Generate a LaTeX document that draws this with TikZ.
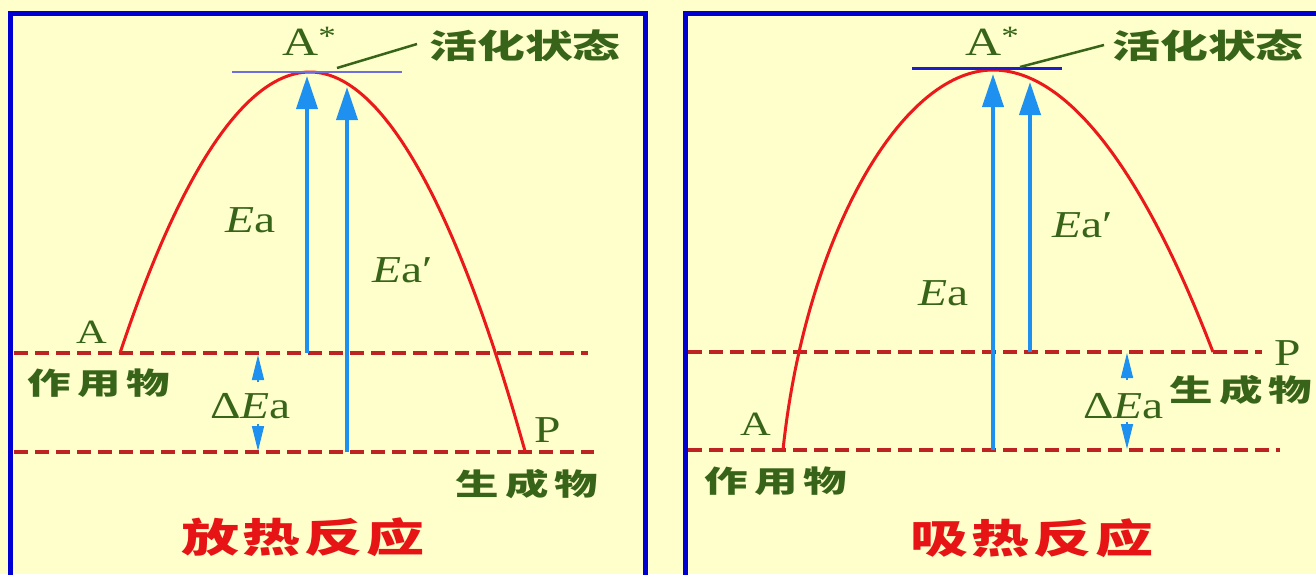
\documentclass[tikz,border=0pt]{standalone}
\usepackage{fontspec}
\setmainfont{Liberation Serif}[FakeStretch=1.25]
\newfontfamily\cjkfont{Noto Sans CJK SC}[FakeStretch=1.45]
\usetikzlibrary{arrows.meta,calc}
\definecolor{bgcream}{RGB}{255,255,204}
\definecolor{frameblue}{RGB}{0,0,210}
\definecolor{curvered}{RGB}{235,25,25}
\definecolor{titlered}{RGB}{230,20,20}
\definecolor{dashred}{RGB}{190,35,35}
\definecolor{arrowblue}{RGB}{30,144,240}
\definecolor{txtgreen}{RGB}{55,100,25}
\definecolor{toplineL}{RGB}{110,110,225}
\definecolor{toplineR}{RGB}{30,30,200}
\begin{document}
\begin{tikzpicture}[x=1pt,y=-1pt,
  lbl/.style={inner sep=0pt, text=txtgreen, font=\fontsize{38}{44}\selectfont, anchor=base west},
  cnlbl/.style={inner sep=0pt, text=txtgreen, font=\cjkfont\bfseries\fontsize{30}{34}\selectfont},
  statelbl/.style={inner sep=0pt, text=txtgreen, font=\cjkfont\bfseries\fontsize{33}{38}\selectfont},
  titlelbl/.style={inner sep=0pt, text=titlered, font=\cjkfont\bfseries\fontsize{40}{46}\selectfont},
  enline/.style={draw=dashred, line width=3.2pt, dash pattern=on 14pt off 7pt},
  barrier/.style={draw=curvered, line width=3pt},
  energy/.style={draw=arrowblue, line width=4pt, -{Triangle[length=33pt,width=21pt]}},
  darrow/.style={draw=arrowblue, line width=1.5pt, -{Triangle[length=25pt,width=12pt]}},
  leadline/.style={draw=txtgreen, line width=2.5pt},
  panelframe/.style={draw=frameblue, line width=5pt},
]
\useasboundingbox (0,0) rectangle (1316,574);
\clip (0,0) rectangle (1316,574);
\fill[bgcream] (0,0) rectangle (1316,574);

% panels
\draw[panelframe] (10,13) rectangle (645,582);
\draw[panelframe] (685,13) rectangle (1330,582);

% ---------------- left panel: exothermic ----------------
\coordinate (LupS) at (14,353);  \coordinate (LupE) at (588,353);
\coordinate (LloS) at (14,452);  \coordinate (LloE) at (594,452);
\draw[enline] (LupS) -- (LupE);
\draw[enline] (LloS) -- (LloE);

\coordinate (LA) at (120,353);
\coordinate (LT) at (310,72);
\coordinate (LP) at (525,451);
\draw[barrier] (LA) parabola bend (LT) (LP);

\coordinate (LtopS) at (232,72); \coordinate (LtopE) at (402,72);
\draw[draw=toplineL, line width=2.5pt] (LtopS) -- (LtopE);

\coordinate (La1s) at (307,353); \coordinate (La1e) at (307,76);
\coordinate (La2s) at (347,452); \coordinate (La2e) at (347,87);
\draw[energy] (La1s) -- (La1e);
\draw[energy] (La2s) -- (La2e);

\coordinate (Ld1s) at (258,382); \coordinate (Ld1e) at (258,355);
\coordinate (Ld2s) at (258,424); \coordinate (Ld2e) at (258,451);
\draw[darrow] (Ld1s) -- (Ld1e);
\draw[darrow] (Ld2s) -- (Ld2e);

\node[lbl, font=\fontsize{40}{46}\selectfont] (LAstar) at (282,55) {A\textsuperscript{*}};
\node[statelbl] (Lstate) at (525,46) {活化状态};
\coordinate (LldS) at (337,68); \coordinate (LldE) at (417,44);
\draw[leadline] (LldS) -- (LldE);

\node[lbl, font=\fontsize{34}{40}\selectfont] (LAlbl) at (76,343) {A};
\node[cnlbl] (Lreact) at (99,383) {作\kern6pt 用\kern6pt 物};
\node[lbl] (LEa) at (225,232) {\textit{E}a};
\node[lbl] (LEap) at (372,282) {\textit{E}a′};
\node[lbl] (LdEa) at (210,418) {Δ\textit{E}a};
\node[lbl] (LPlbl) at (534,442) {P};
\node[cnlbl] (Lprod) at (527,484) {生\kern6pt 成\kern6pt 物};
\node[titlelbl] (Ltitle) at (303,537) {放\kern4pt 热\kern4pt 反\kern4pt 应};

% ---------------- right panel: endothermic ----------------
\coordinate (RupS) at (688,352);  \coordinate (RupE) at (1262,352);
\coordinate (RloS) at (688,450);  \coordinate (RloE) at (1280,450);
\draw[enline] (RupS) -- (RupE);
\draw[enline] (RloS) -- (RloE);

\coordinate (RA) at (783,450);
\coordinate (RT) at (993,70);
\coordinate (RP) at (1213,352);
\draw[barrier] (RA) .. controls (805,240) and (900,70) .. (RT) parabola (RP);

\coordinate (RtopS) at (912,68); \coordinate (RtopE) at (1062,68);
\draw[draw=toplineR, line width=3pt] (RtopS) -- (RtopE);

\coordinate (Ra1s) at (993,450); \coordinate (Ra1e) at (993,74);
\coordinate (Ra2s) at (1030,352); \coordinate (Ra2e) at (1030,82);
\draw[energy] (Ra1s) -- (Ra1e);
\draw[energy] (Ra2s) -- (Ra2e);

\coordinate (Rd1s) at (1127,380); \coordinate (Rd1e) at (1127,353);
\coordinate (Rd2s) at (1127,422); \coordinate (Rd2e) at (1127,449);
\draw[darrow] (Rd1s) -- (Rd1e);
\draw[darrow] (Rd2s) -- (Rd2e);

\node[lbl, font=\fontsize{40}{46}\selectfont] (RAstar) at (965,55) {A\textsuperscript{*}};
\node[statelbl] (Rstate) at (1208,46) {活化状态};
\coordinate (RldS) at (1020,67); \coordinate (RldE) at (1104,45);
\draw[leadline] (RldS) -- (RldE);

\node[lbl] (REap) at (1052,237) {\textit{E}a′};
\node[lbl] (REa) at (918,305) {\textit{E}a};
\node[lbl] (RPlbl) at (1274,365) {P};
\node[cnlbl] (Rprod) at (1241,390) {生\kern6pt 成\kern6pt 物};
\node[lbl] (RdEa) at (1083,418) {Δ\textit{E}a};
\node[lbl, font=\fontsize{34}{40}\selectfont] (RAlbl) at (740,435) {A};
\node[cnlbl] (Rreact) at (776,481) {作\kern6pt 用\kern6pt 物};
\node[titlelbl] (Rtitle) at (1032,538) {吸\kern4pt 热\kern4pt 反\kern4pt 应};
\end{tikzpicture}
\end{document}
